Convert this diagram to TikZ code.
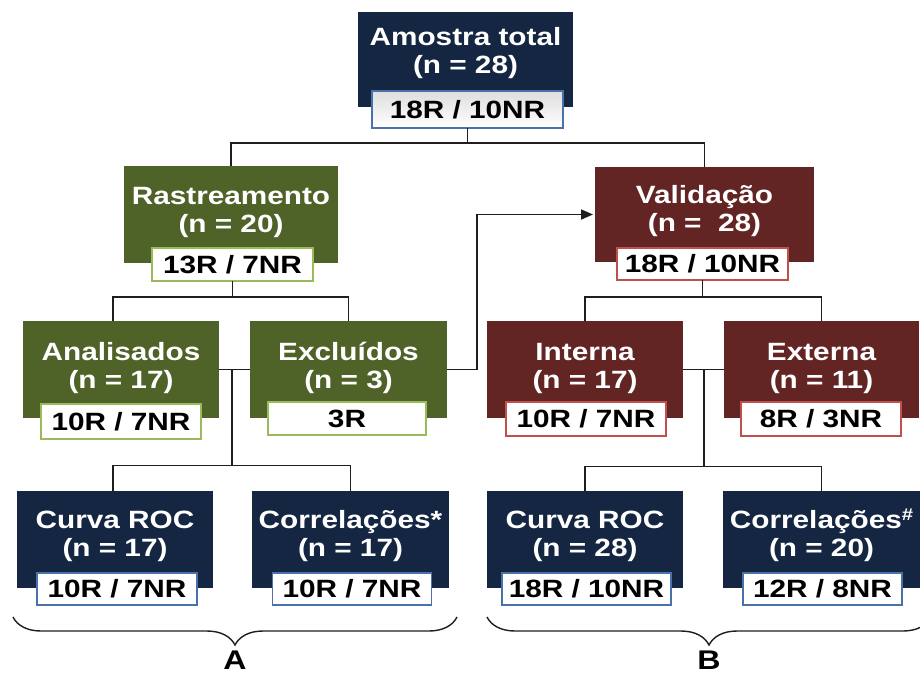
\documentclass[tikz,border=0pt]{standalone}
\usepackage{fontspec}
\setmainfont{Liberation Sans}[FakeStretch=1.19]
\usetikzlibrary{arrows.meta,decorations.pathreplacing,calc}

\definecolor{navyfill}{HTML}{142642}
\definecolor{olivefill}{HTML}{4F6228}
\definecolor{wine}{HTML}{632523}
\definecolor{navyedge}{HTML}{4A72AA}
\definecolor{oliveedge}{HTML}{9BBB59}
\definecolor{wineedge}{HTML}{C0504D}
\definecolor{linkgray}{HTML}{1E1E1E}

\tikzset{
  every node/.style={font=\bfseries\fontsize{25}{28}\selectfont},
  panel/.style={rectangle, inner sep=0pt, outer sep=0pt, fill=#1},
  % anchored at the baseline of the second (last) line
  heading/.style={text=white, align=center, anchor=base, inner sep=0pt, outer sep=0pt},
  tally/.style={rectangle, fill=white, draw=#1, line width=1.4pt, inner sep=0pt,
    outer sep=0pt, text=black, text height=17.9pt, text depth=0pt},
  link/.style={draw=linkgray, line width=1.7pt},
  bracket/.style={draw=linkgray, line width=1.4pt, decorate,
    decoration={brace, amplitude=28pt, mirror}},
  tag/.style={anchor=base, inner sep=0pt, font=\bfseries\fontsize{27}{29}\selectfont},
}

\begin{document}
\begin{tikzpicture}[x=1pt, y=-1pt]
\useasboundingbox (0,0) rectangle (920,673);
\clip (0,0) rectangle (920,673);

% ---- top level
\node[panel=navyfill, minimum width=215pt, minimum height=95pt] (top) at (465.5,59.5) {};
\node[heading] (topT) at (465.5,73) {Amostra total\\(n = 28)};
\node[tally=navyedge, top color=black!13, bottom color=white, minimum width=191pt, minimum height=37pt] (topC) at (467.5,109.5) {18R / 10NR};

% ---- second level
\node[panel=olivefill, minimum width=214pt, minimum height=97pt] (rast) at (231,214.5) {};
\node[heading] (rastT) at (231,232) {Rastreamento\\(n = 20)};
\node[tally=oliveedge, minimum width=161pt, minimum height=33pt] (rastC) at (232.5,264.5) {13R / 7NR};

\node[panel=wine, minimum width=219pt, minimum height=95pt] (valid) at (704.5,214.5) {};
\node[heading] (validT) at (704.5,231) {Validação\\(n = \ 28)};
\node[tally=wineedge, minimum width=171pt, minimum height=32pt] (validC) at (702.5,264) {18R / 10NR};

% ---- third level
\node[panel=olivefill, minimum width=196pt, minimum height=97pt] (anal) at (121,369.5) {};
\node[heading] (analT) at (121,388) {Analisados\\(n = 17)};
\node[tally=oliveedge, minimum width=160pt, minimum height=35pt] (analC) at (121,421.5) {10R / 7NR};

\node[panel=olivefill, minimum width=197pt, minimum height=97pt] (excl) at (348.5,369.5) {};
\node[heading] (exclT) at (348.5,388) {Excluídos\\(n = 3)};
\node[tally=oliveedge, minimum width=158pt, minimum height=33pt] (exclC) at (347,418.5) {3R};

\node[panel=wine, minimum width=196pt, minimum height=97pt] (interna) at (585,369.5) {};
\node[heading] (internaT) at (585,388) {Interna\\(n = 17)};
\node[tally=wineedge, minimum width=160pt, minimum height=34pt] (internaC) at (586,419) {10R / 7NR};

\node[panel=wine, minimum width=195pt, minimum height=97pt] (externa) at (821.5,369.5) {};
\node[heading] (externaT) at (821.5,388) {Externa\\(n = 11)};
\node[tally=wineedge, minimum width=160pt, minimum height=34pt] (externaC) at (821,419) {8R / 3NR};

% ---- fourth level
\node[panel=navyfill, minimum width=196pt, minimum height=97pt] (curvaA) at (115,539.5) {};
\node[heading] (curvaAT) at (115,556) {Curva ROC\\(n = 17)};
\node[tally=navyedge, minimum width=160pt, minimum height=32pt] (curvaAC) at (117,589) {10R / 7NR};

\node[panel=navyfill, minimum width=197pt, minimum height=97pt] (corrA) at (350.5,539.5) {};
\node[heading] (corrAT) at (350.5,556) {Correlações*\\(n = 17)};
\node[tally=navyedge, minimum width=159pt, minimum height=32pt] (corrAC) at (352,589) {10R / 7NR};

\node[panel=navyfill, minimum width=196pt, minimum height=97pt] (curvaB) at (585,539.5) {};
\node[heading] (curvaBT) at (585,556) {Curva ROC\\(n = 28)};
\node[tally=navyedge, minimum width=169pt, minimum height=32pt] (curvaBC) at (586.5,589) {18R / 10NR};

\node[panel=navyfill, minimum width=197pt, minimum height=97pt] (corrB) at (821.5,539.5) {};
\node[heading] (corrBT) at (821.5,556) {Correlações\raisebox{8pt}{\fontsize{17}{17}\selectfont\#}\\(n = 20)};
\node[tally=navyedge, minimum width=159pt, minimum height=32pt] (corrBC) at (822.5,589) {12R / 8NR};

% ---- connectors
\draw[link] (topC.south) -- ++(0,15) coordinate (j0);
\draw[link] (rast.north) |- (j0) -| (valid.north);

\draw[link] (rastC.south) -- ++(0,16) coordinate (j1);
\draw[link] ($(anal.north)+(-8,0)$) |- (j1) -| (excl.north);

\draw[link] (anal.east) -- (excl.west);
\coordinate (j2) at ($(anal.east)!0.42!(excl.west)$);
\draw[link] (j2) -- ++(0,96) coordinate (j3);
\draw[link] ($(curvaA.north)+(-2,0)$) |- (j3) -| (corrA.north);

\draw[link, -{Triangle[length=12pt, width=10pt]}, shorten >=2pt]
  (excl.east) -- ++(30,0) |- (valid.west);

\draw[link] (validC.south) -- ++(0,17) coordinate (j4);
\draw[link] (interna.north) |- (j4) -| (externa.north);

\draw[link] (interna.east) -- (externa.west);
\coordinate (j5) at ($(interna.east)!0.51!(externa.west)$);
\draw[link] (j5) -- ++(0,97) coordinate (j6);
\draw[link] (curvaB.north) |- (j6) -| (corrB.north);

% ---- group braces
\coordinate (bA1) at (13,617);
\coordinate (bA2) at (457,617);
\coordinate (bB1) at (487,617);
\coordinate (bB2) at (931,617);
\draw[bracket] (bA1) -- (bA2);
\draw[bracket] (bB1) -- (bB2);
\node[tag] (labA) at (235,669) {A};
\node[tag] (labB) at (709,669) {B};
\end{tikzpicture}
\end{document}
